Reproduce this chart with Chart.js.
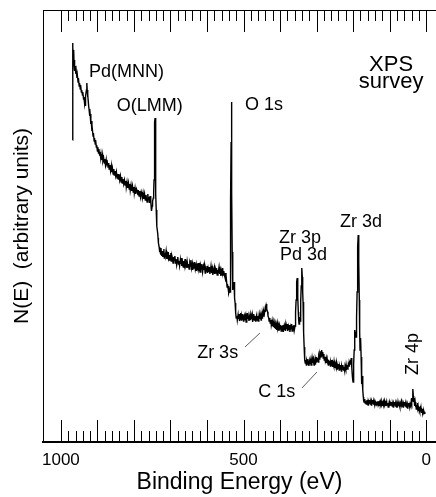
<!DOCTYPE html>
<html>
<head>
<meta charset="utf-8">
<title>XPS survey</title>
<script src="https://cdn.jsdelivr.net/npm/chart.js@4.4.0/dist/chart.umd.min.js"></script>
<style>
  html, body { margin: 0; padding: 0; background: #fff; }
  canvas { display: block; }
</style>
</head>
<body>
<canvas id="xpsChart" width="436" height="497"></canvas>
<script>
// Survey spectrum: binding energy (eV) and N(E) in arbitrary units
var energy = [
    968, 968, 967, 966, 965, 964, 963, 962, 961, 959,
    958, 956, 955, 953, 952, 950, 949, 947, 946, 944,
    943, 941, 940, 938, 937, 935, 934, 933, 932, 930,
    929, 928, 927, 926, 924, 923, 921, 920, 918, 917,
    915, 914, 912, 911, 909, 908, 906, 905, 903, 902,
    900, 899, 897, 896, 894, 893, 891, 890, 888, 886,
    885, 883, 881, 880, 878, 876, 875, 873, 871, 869,
    868, 866, 864, 862, 861, 859, 857, 855, 854, 852,
    850, 848, 846, 845, 843, 841, 839, 837, 835, 833,
    832, 830, 828, 826, 824, 822, 821, 819, 817, 815,
    813, 811, 810, 808, 806, 804, 802, 800, 799, 797,
    795, 793, 791, 789, 788, 786, 784, 782, 780, 778,
    777, 775, 773, 771, 769, 767, 766, 764, 762, 761,
    759, 757, 756, 754, 753, 752, 750, 749, 747, 746,
    745, 744, 743, 742, 741, 740, 739, 738, 737, 735,
    734, 733, 731, 730, 729, 727, 726, 724, 723, 721,
    720, 718, 717, 715, 714, 712, 710, 709, 707, 706,
    704, 702, 701, 699, 698, 696, 694, 693, 691, 690,
    688, 686, 685, 683, 681, 680, 678, 677, 675, 673,
    672, 670, 669, 667, 665, 664, 662, 660, 659, 657,
    655, 654, 652, 650, 649, 647, 645, 644, 642, 640,
    639, 637, 635, 634, 632, 630, 629, 627, 625, 624,
    622, 620, 619, 617, 615, 614, 612, 610, 609, 607,
    605, 604, 602, 600, 599, 597, 595, 594, 592, 590,
    589, 587, 585, 584, 582, 580, 579, 577, 575, 574,
    572, 570, 569, 567, 565, 564, 562, 561, 559, 557,
    556, 554, 553, 551, 550, 548, 547, 545, 544, 542,
    541, 540, 538, 537, 536, 535, 534, 533, 532, 531,
    530, 529, 528, 527, 526, 525, 524, 523, 522, 521,
    520, 518, 517, 515, 514, 512, 511, 509, 508, 506,
    505, 503, 502, 500, 499, 497, 496, 494, 493, 491,
    490, 488, 487, 485, 484, 482, 481, 479, 478, 476,
    475, 473, 472, 470, 469, 467, 466, 464, 463, 461,
    460, 458, 457, 455, 454, 452, 451, 449, 448, 446,
    445, 443, 441, 440, 438, 437, 436, 434, 433, 431,
    430, 428, 427, 425, 424, 422, 421, 419, 418, 416,
    415, 413, 412, 410, 409, 407, 406, 404, 403, 401,
    400, 398, 397, 395, 394, 392, 391, 389, 388, 386,
    385, 383, 382, 380, 379, 377, 376, 374, 373, 371,
    370, 368, 367, 365, 364, 362, 361, 359, 358, 357,
    356, 355, 354, 353, 352, 351, 350, 349, 348, 347,
    346, 345, 344, 343, 342, 341, 340, 339, 338, 337,
    336, 335, 334, 333, 332, 331, 330, 328, 327, 325,
    324, 322, 321, 319, 318, 316, 315, 313, 312, 310,
    309, 307, 306, 304, 303, 301, 300, 298, 297, 295,
    294, 292, 291, 289, 288, 287, 286, 285, 283, 282,
    280, 279, 277, 276, 274, 273, 271, 270, 268, 267,
    265, 264, 262, 261, 259, 258, 256, 255, 253, 252,
    250, 249, 247, 246, 244, 243, 241, 240, 238, 237,
    235, 234, 232, 231, 229, 228, 226, 225, 223, 222,
    220, 219, 217, 216, 214, 213, 211, 210, 208, 207,
    206, 205, 204, 203, 202, 201, 200, 199, 198, 197,
    196, 195, 194, 193, 192, 191, 190, 189, 188, 187,
    186, 185, 184, 183, 182, 181, 180, 179, 178, 177,
    176, 175, 174, 173, 172, 171, 170, 168, 167, 165,
    164, 162, 161, 159, 158, 156, 155, 153, 152, 150,
    149, 147, 146, 144, 143, 141, 140, 138, 137, 135,
    134, 132, 131, 129, 128, 126, 125, 123, 122, 120,
    119, 117, 116, 114, 113, 111, 110, 108, 107, 105,
    104, 102, 101, 99, 98, 96, 95, 93, 92, 90,
    89, 87, 86, 84, 83, 81, 80, 78, 77, 75,
    74, 72, 71, 69, 68, 66, 65, 63, 62, 60,
    59, 57, 56, 54, 53, 51, 50, 48, 47, 45,
    44, 42, 41, 40, 39, 38, 37, 36, 35, 34,
    33, 32, 31, 30, 29, 28, 27, 26, 25, 24,
    23, 22, 21, 20, 19, 18, 17, 16, 15, 14,
    13, 12, 11, 10, 9, 8, 7, 6, 5, 4,
    3
];

var counts = [
    302, 399, 394, 388, 392, 378, 382, 371, 376, 368,
    371, 364, 367, 360, 364, 356, 359, 353, 357, 350,
    352, 347, 350, 343, 345, 338, 341, 336, 346, 352,
    359, 352, 345, 347, 336, 333, 326, 328, 318, 321,
    311, 313, 306, 309, 301, 304, 298, 302, 295, 297,
    291, 295, 289, 293, 287, 290, 284, 288, 282, 287,
    281, 284, 279, 283, 277, 282, 278, 280, 275, 279,
    273, 277, 271, 276, 270, 274, 268, 273, 267, 271,
    266, 270, 264, 268, 263, 268, 262, 266, 260, 265,
    259, 263, 258, 262, 257, 261, 255, 260, 254, 259,
    253, 258, 252, 257, 251, 256, 250, 255, 249, 254,
    248, 253, 251, 247, 252, 246, 251, 245, 250, 247,
    244, 249, 243, 248, 242, 247, 244, 240, 248, 243,
    245, 239, 246, 240, 236, 231, 236, 241, 244, 250,
    262, 292, 320, 324, 282, 248, 232, 224, 216, 209,
    204, 199, 195, 190, 193, 188, 194, 186, 191, 185,
    190, 193, 184, 189, 186, 191, 183, 188, 185, 190,
    182, 187, 184, 189, 181, 186, 183, 179, 185, 182,
    186, 179, 183, 177, 182, 185, 178, 181, 176, 182,
    178, 184, 176, 180, 175, 181, 177, 183, 176, 179,
    174, 180, 175, 178, 173, 179, 176, 182, 174, 178,
    172, 177, 174, 180, 173, 177, 171, 176, 173, 179,
    171, 175, 170, 176, 173, 178, 170, 175, 172, 177,
    169, 174, 171, 176, 169, 174, 170, 175, 168, 173,
    176, 169, 173, 167, 172, 175, 168, 173, 169, 174,
    167, 172, 170, 175, 168, 171, 166, 172, 169, 174,
    167, 171, 168, 165, 169, 160, 163, 155, 158, 153,
    156, 149, 152, 150, 160, 242, 300, 340, 250, 190,
    156, 152, 159, 155, 160, 150, 144, 139, 133, 129,
    124, 126, 122, 127, 123, 128, 121, 125, 129, 122,
    126, 123, 128, 121, 125, 127, 122, 126, 120, 124,
    129, 123, 126, 121, 125, 128, 122, 126, 123, 127,
    120, 125, 128, 122, 126, 121, 124, 127, 122, 126,
    121, 125, 128, 123, 126, 122, 127, 124, 129, 126,
    131, 128, 133, 130, 136, 138, 133, 130, 126, 124,
    121, 124, 119, 122, 117, 121, 116, 120, 115, 119,
    114, 118, 113, 117, 112, 118, 114, 117, 111, 116,
    113, 117, 111, 116, 113, 117, 110, 115, 112, 117,
    111, 116, 113, 118, 111, 115, 112, 117, 110, 115,
    113, 118, 111, 116, 113, 117, 112, 116, 119, 130,
    142, 150, 160, 164, 158, 145, 130, 122, 118, 122,
    125, 121, 128, 140, 156, 168, 174, 165, 150, 140,
    128, 110, 95, 86, 82, 79, 82, 77, 81, 78,
    83, 79, 76, 81, 78, 82, 77, 80, 84, 79,
    82, 77, 81, 78, 83, 80, 85, 81, 84, 80,
    86, 83, 88, 85, 91, 86, 92, 87, 90, 84,
    88, 82, 85, 81, 84, 79, 83, 80, 77, 82,
    78, 81, 76, 80, 77, 82, 75, 79, 76, 80,
    74, 78, 75, 79, 73, 77, 74, 78, 72, 76,
    73, 77, 71, 76, 73, 77, 72, 75, 71, 76,
    73, 77, 72, 75, 74, 78, 76, 80, 78, 82,
    79, 84, 82, 74, 66, 62, 60, 64, 78, 92,
    100, 112, 108, 110, 105, 115, 125, 150, 175, 195,
    207, 204, 180, 142, 110, 92, 98, 104, 85, 70,
    58, 61, 66, 52, 45, 41, 40, 43, 39, 41,
    38, 42, 40, 37, 41, 39, 42, 38, 40, 37,
    41, 39, 42, 38, 40, 37, 41, 39, 37, 40,
    38, 41, 37, 39, 36, 40, 38, 41, 37, 39,
    36, 40, 38, 41, 37, 39, 36, 40, 37, 39,
    35, 38, 40, 36, 39, 37, 40, 36, 38, 35,
    39, 37, 40, 36, 38, 35, 39, 37, 40, 36,
    38, 35, 39, 37, 40, 36, 38, 35, 39, 37,
    40, 36, 38, 35, 37, 34, 38, 36, 39, 35,
    38, 36, 40, 38, 44, 41, 48, 53, 46, 40,
    44, 38, 36, 40, 35, 38, 33, 37, 35, 39,
    33, 36, 31, 34, 32, 35, 30, 33, 31, 34,
    29, 32, 30, 33, 29, 31, 28, 31, 29, 30,
    28
];

// Labelled ticks on the energy axis, and the tick mark spacing
var energyLabels = [1000, 500, 0];
var majorStep = 100;
var minorStep = 20;

// Peak assignments, placed in (energy, N(E)) coordinates
var peakLabels = [
    { text: 'Pd(MNN)', e: 923, n: 365 },
    { text: 'O(LMM)', e: 847, n: 331 },
    { text: 'O 1s', e: 496, n: 332 },
    { text: 'Zr 3p', e: 403, n: 199 },
    { text: 'Pd 3d', e: 400, n: 182 },
    { text: 'Zr 3d', e: 236, n: 215 },
    { text: 'Zr 3s', e: 627, n: 84 },
    { text: 'C 1s', e: 460, n: 45 }
];

// Leader lines from a label to its peak: [e1, n1, e2, n2]
var leaders = [
    [496, 95, 455, 109],
    [340, 54, 299, 70]
];

var fontFamily = '"Liberation Sans", Arial, Helvetica, sans-serif';

var points = energy.map(function(e, i) {
    return { x: e, y: counts[i] };
});

// Inward tick marks on the bottom axis and the top frame line
var frameTicks = {
    id: 'frameTicks',
    afterDatasetsDraw: function(chart) {
        var ctx = chart.ctx;
        var area = chart.chartArea;
        var xs = chart.scales.x;
        ctx.save();
        ctx.strokeStyle = '#000';
        ctx.lineWidth = 1;
        ctx.beginPath();
        ctx.moveTo(area.left, area.top + 0.5);
        ctx.lineTo(area.right, area.top + 0.5);
        for (var e = 0; e <= 1000; e += minorStep) {
            var px = Math.round(xs.getPixelForValue(e)) + 0.5;
            var len = (e % majorStep === 0) ? 22 : 11;
            ctx.moveTo(px, area.bottom);
            ctx.lineTo(px, area.bottom - len);
            ctx.moveTo(px, area.top);
            ctx.lineTo(px, area.top + len);
        }
        ctx.stroke();
        ctx.restore();
    }
};

// Peak names, the XPS survey caption and leader lines
var peakText = {
    id: 'peakText',
    afterDatasetsDraw: function(chart) {
        var ctx = chart.ctx;
        var xs = chart.scales.x;
        var ys = chart.scales.y;
        ctx.save();
        ctx.fillStyle = '#000';
        ctx.textBaseline = 'alphabetic';
        ctx.textAlign = 'left';
        ctx.font = '18px ' + fontFamily;
        peakLabels.forEach(function(lbl) {
            ctx.fillText(lbl.text, xs.getPixelForValue(lbl.e), ys.getPixelForValue(lbl.n));
        });

        ctx.strokeStyle = '#333';
        ctx.lineWidth = 0.8;
        leaders.forEach(function(l) {
            ctx.beginPath();
            ctx.moveTo(xs.getPixelForValue(l[0]), ys.getPixelForValue(l[1]));
            ctx.lineTo(xs.getPixelForValue(l[2]), ys.getPixelForValue(l[3]));
            ctx.stroke();
        });

        ctx.textAlign = 'center';
        ctx.font = '22px ' + fontFamily;
        ctx.fillText('XPS', xs.getPixelForValue(96), ys.getPixelForValue(371));
        ctx.fillText('survey', xs.getPixelForValue(96), ys.getPixelForValue(354));

        // Zr 4p reads upward beside its peak
        ctx.font = '18px ' + fontFamily;
        ctx.translate(xs.getPixelForValue(36), ys.getPixelForValue(88));
        ctx.rotate(-Math.PI / 2);
        ctx.textBaseline = 'middle';
        ctx.fillText('Zr 4p', 0, 0);
        ctx.restore();
    }
};

var ctx = document.getElementById('xpsChart').getContext('2d');
new Chart(ctx, {
    type: 'line',
    data: {
        datasets: [{
            label: 'N(E)',
            data: points,
            borderColor: '#000',
            borderWidth: 1.4,
            pointRadius: 0,
            tension: 0,
            fill: false
        }]
    },
    options: {
        responsive: false,
        animation: false,
        devicePixelRatio: 1,
        layout: { padding: { top: 10, right: 0, bottom: 0, left: 0 } },
        plugins: {
            legend: { display: false },
            tooltip: { enabled: false }
        },
        scales: {
            x: {
                type: 'linear',
                reverse: true,
                min: -27,
                max: 1049,
                afterBuildTicks: function(scale) {
                    scale.ticks = energyLabels.map(function(v) { return { value: v }; });
                },
                afterFit: function(scale) { scale.height = 55; },
                ticks: {
                    autoSkip: false,
                    maxRotation: 0,
                    padding: 0,
                    color: '#000',
                    font: { family: fontFamily, size: 17 },
                    callback: function(v) { return String(v); }
                },
                grid: { display: false },
                border: { display: true, color: '#000', width: 2 },
                title: {
                    display: true,
                    text: 'Binding Energy (eV)',
                    color: '#000',
                    font: { family: fontFamily, size: 23, lineHeight: 1.2 },
                    padding: { top: 0, bottom: 1 }
                }
            },
            y: {
                min: 0,
                max: 432,
                afterFit: function(scale) { scale.width = 43; },
                ticks: { display: false },
                grid: { display: false },
                border: { display: true, color: '#000', width: 1 },
                title: {
                    display: true,
                    text: 'N(E)  (arbitrary units)',
                    color: '#000',
                    font: { family: fontFamily, size: 21, lineHeight: 1.2 },
                    padding: { top: 10, bottom: 0 }
                }
            }
        }
    },
    plugins: [frameTicks, peakText]
});
</script>
</body>
</html>
